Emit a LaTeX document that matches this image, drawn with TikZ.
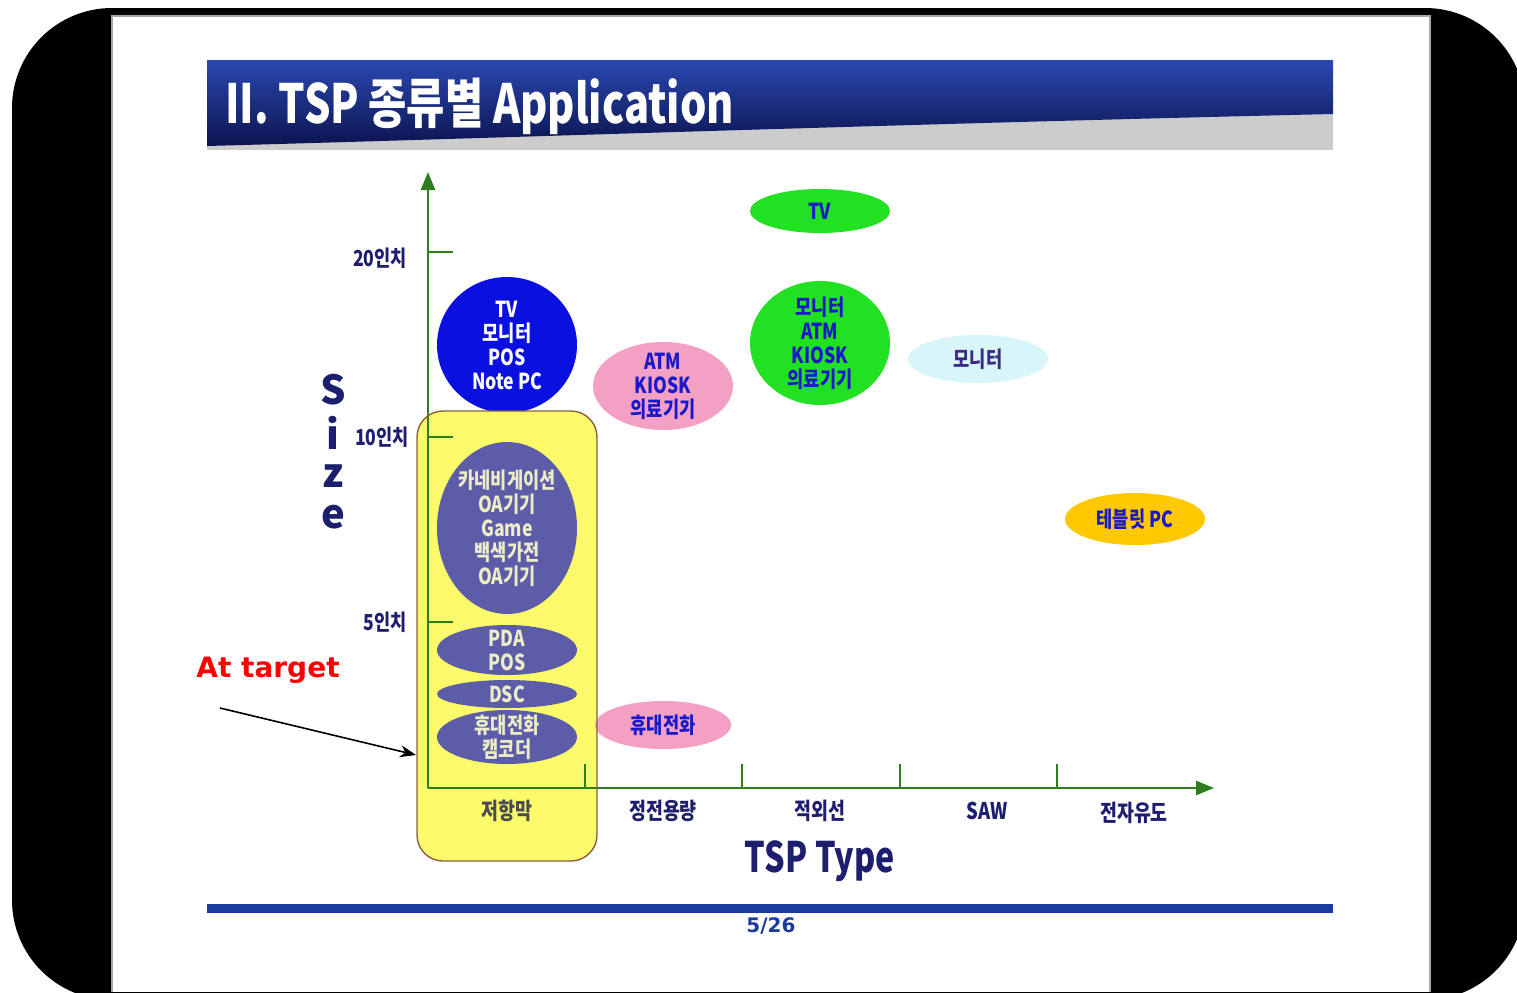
\documentclass[tikz,border=0pt]{standalone}
\usepackage{fontspec}
\usetikzlibrary{shapes.geometric,arrows.meta}
\newfontfamily\krc{Noto Sans CJK KR}[FakeStretch=0.8]
\newfontfamily\krt{Noto Sans CJK KR}[FakeStretch=0.77]
\newfontfamily\kr{Noto Sans CJK KR}
\newfontfamily\dv{DejaVu Sans}
\definecolor{axisgreen}{HTML}{2E7D1E}
\definecolor{navy}{HTML}{1E1E6E}
\definecolor{tblue}{HTML}{1A18C8}
\definecolor{blobblue}{HTML}{0A10E0}
\definecolor{blobpink}{HTML}{F4A0C4}
\definecolor{blobgreen}{HTML}{22E022}
\definecolor{blobcyan}{HTML}{D8F6FA}
\definecolor{blobgold}{HTML}{FFC800}
\definecolor{blobgray}{HTML}{5C5CA8}
\definecolor{graytext}{HTML}{ECECC8}
\definecolor{hilite}{HTML}{FAFA6A}
\definecolor{hiliteborder}{HTML}{8B6040}
\definecolor{barblue}{HTML}{1A3AA0}
\definecolor{titletop}{HTML}{2A48B0}
\definecolor{titlebot}{HTML}{0C1450}
\definecolor{monitor}{HTML}{3A2A80}
\definecolor{hlnavy}{HTML}{4A4A50}
\tikzset{
  axis/.style={draw=axisgreen, line width=1.4pt},
  blob/.style={ellipse, draw=none, inner sep=0pt},
  btxt/.style={align=center, inner sep=0pt, font=\krc\bfseries\fontsize{11}{12}\selectfont},
  ylab/.style={text=navy, inner sep=0pt, font=\krc\bfseries\fontsize{11}{12}\selectfont},
  xlab/.style={text=navy, inner sep=0pt, font=\krc\bfseries\fontsize{11.5}{12}\selectfont},
  sizelab/.style={text=navy, inner sep=0pt, font=\kr\bfseries\fontsize{20}{20}\selectfont},
  hlbox/.style={rounded corners=13pt, minimum width=90pt, minimum height=225pt, inner sep=0pt},
}
\begin{document}
\begin{tikzpicture}[x=0.5pt,y=-0.5pt]
\useasboundingbox (0,0) rectangle (1517,992);
% frame
\begin{scope}
\clip (0,0) rectangle (1517,992);
\fill[black, rounded corners=50pt] (12,8) rectangle (1525,1000);
\fill[white] (112,16) rectangle (1430,992);
\draw[gray!70, line width=0.6pt] (112,992) -- (112,16) -- (1430,16) -- (1430,992);
\end{scope}
% title banner
\fill[gray!40] (207,60) rectangle (1333,150);
\shade[top color=titletop, bottom color=titlebot] (207,60) -- (1333,60) -- (1333,114) .. controls (900,124) and (500,138) .. (207,146) -- cycle;
\node[anchor=west, text=white, inner sep=0pt] (title) at (225,106) {\krt\bfseries\fontsize{27}{28}\selectfont II. TSP 종류별 Application};
% blue circle (partly under highlight)
\node[blob, fill=blobblue, minimum width=70pt, minimum height=68pt] (e1) at (507,345) {};
\node[btxt, text=white] (e1t) at (e1) {TV\\모니터\\POS\\Note PC};
% highlight base
\node[fill=hilite, hlbox] (hl) at (507,636) {};
% axes
\coordinate (O) at (428,788);
\coordinate (ytop) at (428,172);
\coordinate (xend) at (1214,788);
\draw[axis, -{Triangle[length=9pt,width=7pt]}] (O) -- (ytop);
\draw[axis, -{Triangle[length=9pt,width=7pt]}] (O) -- (xend);
\foreach \yy/\nm in {252/t20,437/t10,622/t5}{
  \coordinate (\nm a) at (428,\yy);
  \coordinate (\nm b) at (453,\yy);
  \draw[axis] (\nm a) -- (\nm b);
}
\foreach \xx/\nm in {585/x1,742/x2,900/x3,1057/x4}{
  \coordinate (\nm a) at (\xx,788);
  \coordinate (\nm b) at (\xx,764);
  \draw[axis] (\nm a) -- (\nm b);
}
% axis labels
\node[ylab] (l20) at (380,258) {20인치};
\node[ylab] (l10) at (382,437) {10인치};
\node[ylab] (l5) at (385,622) {5인치};
\node[sizelab] (sS) at (333,390) {S};
\node[sizelab] (sI) at (333,433) {i};
\node[sizelab] (sZ) at (333,476) {z};
\node[sizelab] (sE) at (333,517) {e};
\node[xlab, text=hlnavy] (xa) at (507,811) {저항막};
\node[xlab] (xb) at (663,811) {정전용량};
\node[xlab] (xc) at (820,811) {적외선};
\node[xlab] (xd) at (987,811) {SAW};
\node[xlab] (xe) at (1134,813) {전자유도};
\node[text=navy, inner sep=0pt, font=\krt\bfseries\fontsize{21}{24}\selectfont] (ttype) at (820,861) {TSP Type};
% blobs
\node[blob, fill=blobpink, minimum width=70pt, minimum height=44pt] (e2) at (663,386) {};
\node[btxt, text=tblue] (e2t) at (e2) {ATM\\KIOSK\\의료기기};
\node[blob, fill=blobgreen, minimum width=70pt, minimum height=22pt] (e3) at (820,211) {};
\node[btxt, text=tblue] (e3t) at (e3) {TV};
\node[blob, fill=blobgreen, minimum width=70pt, minimum height=62pt] (e4) at (820,343) {};
\node[btxt, text=tblue] (e4t) at (e4) {모니터\\ATM\\KIOSK\\의료기기};
\node[blob, fill=blobcyan, minimum width=70pt, minimum height=24pt] (e5) at (978,359) {};
\node[btxt, text=monitor] (e5t) at (e5) {모니터};
\node[blob, fill=blobgold, minimum width=70pt, minimum height=26pt] (e6) at (1135,519) {};
\node[btxt, text=tblue] (e6t) at (e6) {테블릿 PC};
\node[blob, fill=blobpink, minimum width=68pt, minimum height=24pt] (e7) at (663,725) {};
\node[btxt, text=tblue] (e7t) at (e7) {휴대전화};
% highlighted column contents
\node[blob, fill=blobgray, minimum width=70pt, minimum height=86pt] (g1) at (507,528) {};
\node[btxt, text=graytext] (g1t) at (g1) {카네비게이션\\OA기기\\Game\\백색가전\\OA기기};
\node[blob, fill=blobgray, minimum width=70pt, minimum height=25pt] (g2) at (507,650) {};
\node[btxt, text=graytext] (g2t) at (g2) {PDA\\POS};
\node[blob, fill=blobgray, minimum width=70pt, minimum height=14pt] (g3) at (507,694) {};
\node[btxt, text=graytext] (g3t) at (g3) {DSC};
\node[blob, fill=blobgray, minimum width=70pt, minimum height=27pt] (g4) at (507,737) {};
\node[btxt, text=graytext] (g4t) at (g4) {휴대전화\\캠코더};
\node[draw=hiliteborder, line width=0.7pt, hlbox] (hlb) at (507,636) {};
% annotation
\node[text=red, inner sep=0pt, font=\dv\bfseries\fontsize{14}{15}\selectfont] (at) at (268,670) {At target};
\coordinate (arrS) at (220,708);
\coordinate (arrE) at (416,755);
\draw[black, line width=0.8pt, -{Stealth[length=8pt,width=6pt]}] (arrS) -- (arrE);
% footer
\coordinate (barL) at (207,908);
\coordinate (barR) at (1333,908);
\draw[barblue, line width=4.5pt] (barL) -- (barR);
\node[text=barblue, inner sep=0pt, font=\dv\bfseries\fontsize{10}{11}\selectfont] (pg) at (771,926) {5/26};
\end{tikzpicture}
\end{document}
